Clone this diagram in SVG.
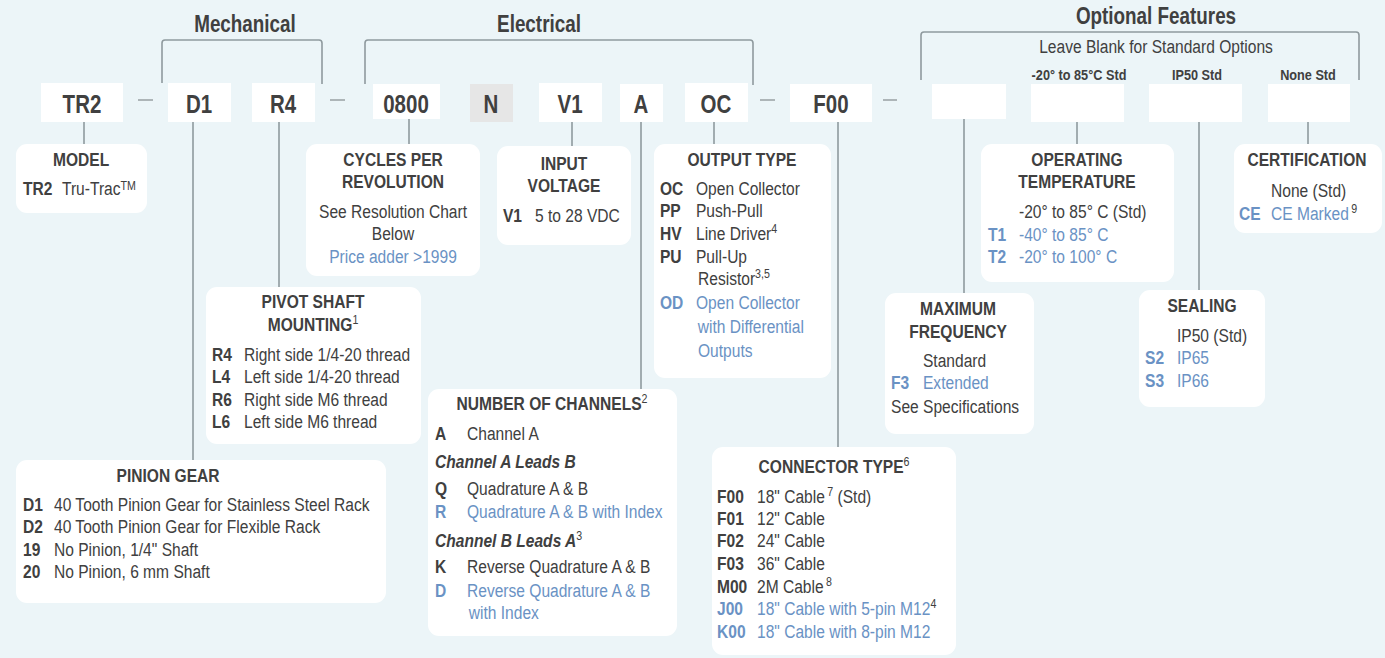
<svg xmlns="http://www.w3.org/2000/svg" width="1385" height="658" viewBox="0 0 1385 658">
<style>
text{font-family:'Liberation Sans Narrow','Arial Narrow','Liberation Sans',Arial,sans-serif;font-size:19px;fill:#404040;transform-box:fill-box;transform-origin:0 0;transform:scaleX(0.82)}
.b{font-weight:bold}
.bl{fill:#6a92c4}
.m{text-anchor:middle;transform-origin:50% 0}
.code{font-size:25px;font-weight:bold;text-anchor:middle;transform-origin:50% 0}
.hd{font-size:23px;font-weight:bold;text-anchor:middle;transform-origin:50% 0}
.sm{font-size:15.5px;font-weight:bold;text-anchor:middle;transform-origin:50% 0}
.card{fill:#ffffff}
.cb{fill:#ffffff}
.ln{fill:none;stroke:#8f9a9e;stroke-width:1.6}
.dash{stroke:#9ea5a8;stroke-width:1.6}
</style>
<rect width="1385" height="658" fill="#ecf5f8"/>

<g id="headings">
<text class="hd" x="245" y="32">Mechanical</text>
<text class="hd" x="539" y="32">Electrical</text>
<text class="hd" x="1156" y="24" font-size="24">Optional Features</text>
<text class="m" x="1156" y="53">Leave Blank for Standard Options</text>
<text class="sm" x="1079" y="80">-20° to 85°C Std</text>
<text class="sm" x="1197" y="80">IP50 Std</text>
<text class="sm" x="1308" y="80">None Std</text>
</g>

<g id="connectors">
<path class="ln" d="M162,83 V43 Q162,40 165,40 H319 Q322,40 322,43 V84"/>
<path class="ln" d="M365,84 V43 Q365,40 368,40 H750 Q753,40 753,43 V85"/>
<path class="ln" d="M921,80 V35 Q921,32 924,32 H1356 Q1359,32 1359,35 V80"/>
<line class="dash" x1="138" y1="100" x2="153" y2="100"/>
<line class="dash" x1="330" y1="100" x2="345" y2="100"/>
<line class="dash" x1="760" y1="100" x2="775" y2="100"/>
<line class="dash" x1="883" y1="100" x2="897" y2="100"/>
<line class="ln" x1="84" y1="121" x2="84" y2="144"/>
<line class="ln" x1="193" y1="121" x2="193" y2="460"/>
<line class="ln" x1="279" y1="121" x2="279" y2="287"/>
<line class="ln" x1="409" y1="119" x2="409" y2="144"/>
<line class="ln" x1="572" y1="121" x2="572" y2="146"/>
<line class="ln" x1="641" y1="121" x2="641" y2="389"/>
<line class="ln" x1="714" y1="121" x2="714" y2="144"/>
<line class="ln" x1="838" y1="121" x2="838" y2="447"/>
<line class="ln" x1="964" y1="119" x2="964" y2="293"/>
<line class="ln" x1="1077" y1="121" x2="1077" y2="144"/>
<line class="ln" x1="1199" y1="121" x2="1199" y2="290"/>
<line class="ln" x1="1308" y1="121" x2="1308" y2="144"/>
</g>

<g id="code-TR2"><rect class="cb" x="41" y="83" width="82" height="39"/><text class="code" x="82" y="113">TR2</text></g>
<g id="code-D1"><rect class="cb" x="168" y="83" width="63" height="39"/><text class="code" x="199" y="113">D1</text></g>
<g id="code-R4"><rect class="cb" x="252" y="83" width="63" height="39"/><text class="code" x="283" y="113">R4</text></g>
<g id="code-0800"><rect class="cb" x="373" y="84" width="67" height="35"/><text class="code" x="406" y="113">0800</text></g>
<g id="code-N"><rect x="470" y="84" width="43" height="38" fill="#e6e6e6"/><text class="code" x="491" y="113">N</text></g>
<g id="code-V1"><rect class="cb" x="539" y="83" width="63" height="39"/><text class="code" x="570" y="113">V1</text></g>
<g id="code-A"><rect class="cb" x="620" y="84" width="43" height="38"/><text class="code" x="641" y="113">A</text></g>
<g id="code-OC"><rect class="cb" x="685" y="83" width="63" height="39"/><text class="code" x="716" y="113">OC</text></g>
<g id="code-F00"><rect class="cb" x="790" y="84" width="82" height="38"/><text class="code" x="831" y="113">F00</text></g>
<g id="code-blank1"><rect class="cb" x="932" y="84" width="74" height="35"/></g>
<g id="code-blank2"><rect class="cb" x="1031" y="84" width="93" height="38"/></g>
<g id="code-blank3"><rect class="cb" x="1149" y="84" width="93" height="38"/></g>
<g id="code-blank4"><rect class="cb" x="1268" y="84" width="82" height="38"/></g>

<g id="model">
<rect class="card" x="16" y="144" width="131" height="69" rx="11"/>
<text class="b m" x="81" y="166">MODEL</text>
<text class="b" x="23" y="195">TR2</text>
<text x="62" y="195">Tru-Trac<tspan dy="-5" font-size="13">TM</tspan></text>
</g>

<g id="cycles">
<rect class="card" x="306" y="144" width="174" height="132" rx="11"/>
<text class="b m" x="393" y="166">CYCLES PER</text>
<text class="b m" x="393" y="188">REVOLUTION</text>
<text class="m" x="393" y="218">See Resolution Chart</text>
<text class="m" x="393" y="240">Below</text>
<text class="m bl" x="393" y="263">Price adder &gt;1999</text>
</g>

<g id="input-voltage">
<rect class="card" x="497" y="146" width="134" height="99" rx="11"/>
<text class="b m" x="564" y="170">INPUT</text>
<text class="b m" x="564" y="192">VOLTAGE</text>
<text class="b" x="503" y="222">V1</text>
<text x="535" y="222">5 to 28 VDC</text>
</g>

<g id="output-type">
<rect class="card" x="654" y="144" width="177" height="234" rx="11"/>
<text class="b m" x="742" y="166">OUTPUT TYPE</text>
<text class="b" x="660" y="195">OC</text><text x="696" y="195">Open Collector</text>
<text class="b" x="660" y="217">PP</text><text x="696" y="217">Push-Pull</text>
<text class="b" x="660" y="240">HV</text><text x="696" y="240">Line Driver<tspan dy="-7" font-size="13">4</tspan></text>
<text class="b" x="660" y="263">PU</text><text x="696" y="263">Pull-Up</text>
<text x="698" y="285">Resistor<tspan dy="-7" font-size="13">3,5</tspan></text>
<text class="b bl" x="660" y="309">OD</text><text class="bl" x="696" y="309">Open Collector</text>
<text class="bl" x="698" y="333">with Differential</text>
<text class="bl" x="698" y="357">Outputs</text>
</g>

<g id="operating-temperature">
<rect class="card" x="981" y="144" width="193" height="138" rx="11"/>
<text class="b m" x="1077" y="166">OPERATING</text>
<text class="b m" x="1077" y="188">TEMPERATURE</text>
<text x="1019" y="218">-20° to 85° C (Std)</text>
<text class="b bl" x="988" y="241">T1</text><text class="bl" x="1019" y="241">-40° to 85° C</text>
<text class="b bl" x="988" y="263">T2</text><text class="bl" x="1019" y="263">-20° to 100° C</text>
</g>

<g id="certification">
<rect class="card" x="1234" y="144" width="148" height="89" rx="11"/>
<text class="b m" x="1307" y="166">CERTIFICATION</text>
<text x="1271" y="197">None (Std)</text>
<text class="b bl" x="1239" y="220">CE</text>
<text class="bl" x="1271" y="220">CE Marked<tspan dx="3" dy="-7" font-size="13" fill="#404040">9</tspan></text>
</g>

<g id="pivot-shaft">
<rect class="card" x="206" y="287" width="215" height="157" rx="11"/>
<text class="b m" x="313" y="308">PIVOT SHAFT</text>
<text class="b m" x="313" y="331">MOUNTING<tspan dy="-7" font-size="13" font-weight="normal">1</tspan></text>
<text class="b" x="212" y="361">R4</text><text x="244" y="361">Right side 1/4-20 thread</text>
<text class="b" x="212" y="383">L4</text><text x="244" y="383">Left side 1/4-20 thread</text>
<text class="b" x="212" y="406">R6</text><text x="244" y="406">Right side M6 thread</text>
<text class="b" x="212" y="428">L6</text><text x="244" y="428">Left side M6 thread</text>
</g>

<g id="max-frequency">
<rect class="card" x="885" y="293" width="149" height="141" rx="11"/>
<text class="b m" x="958" y="315">MAXIMUM</text>
<text class="b m" x="958" y="338">FREQUENCY</text>
<text x="923" y="367">Standard</text>
<text class="b bl" x="891" y="389">F3</text><text class="bl" x="923" y="389">Extended</text>
<text x="891" y="413">See Specifications</text>
</g>

<g id="sealing">
<rect class="card" x="1139" y="290" width="126" height="117" rx="11"/>
<text class="b m" x="1202" y="312">SEALING</text>
<text x="1177" y="342">IP50 (Std)</text>
<text class="b bl" x="1145" y="364">S2</text><text class="bl" x="1177" y="364">IP65</text>
<text class="b bl" x="1145" y="387">S3</text><text class="bl" x="1177" y="387">IP66</text>
</g>

<g id="channels">
<rect class="card" x="428" y="389" width="249" height="247" rx="11"/>
<text class="b m" x="552" y="410">NUMBER OF CHANNELS<tspan dy="-7" font-size="13" font-weight="normal">2</tspan></text>
<text class="b" x="435" y="440">A</text><text x="467" y="440">Channel A</text>
<text class="b" x="435" y="468" font-style="italic">Channel A Leads B</text>
<text class="b" x="435" y="495">Q</text><text x="467" y="495">Quadrature A &amp; B</text>
<text class="b bl" x="435" y="518">R</text><text class="bl" x="467" y="518">Quadrature A &amp; B with Index</text>
<text class="b" x="435" y="547" font-style="italic">Channel B Leads A<tspan dy="-7" font-size="13" font-weight="normal" font-style="normal">3</tspan></text>
<text class="b" x="435" y="573">K</text><text x="467" y="573">Reverse Quadrature A &amp; B</text>
<text class="b bl" x="435" y="597">D</text><text class="bl" x="467" y="597">Reverse Quadrature A &amp; B</text>
<text class="bl" x="469" y="619">with Index</text>
</g>

<g id="pinion-gear">
<rect class="card" x="16" y="460" width="370" height="143" rx="11"/>
<text class="b m" x="168" y="482">PINION GEAR</text>
<text class="b" x="23" y="511">D1</text><text x="54" y="511">40 Tooth Pinion Gear for Stainless Steel Rack</text>
<text class="b" x="23" y="533">D2</text><text x="54" y="533">40 Tooth Pinion Gear for Flexible Rack</text>
<text class="b" x="23" y="556">19</text><text x="54" y="556">No Pinion, 1/4" Shaft</text>
<text class="b" x="23" y="578">20</text><text x="54" y="578">No Pinion, 6 mm Shaft</text>
</g>

<g id="connector-type">
<rect class="card" x="712" y="447" width="244" height="208" rx="11"/>
<text class="b m" x="834" y="473">CONNECTOR TYPE<tspan dy="-7" font-size="13" font-weight="normal">6</tspan></text>
<text class="b" x="717" y="503">F00</text><text x="757" y="503">18" Cable<tspan dx="3" dy="-7" font-size="13">7</tspan><tspan dy="7"> (Std)</tspan></text>
<text class="b" x="717" y="525">F01</text><text x="757" y="525">12" Cable</text>
<text class="b" x="717" y="547">F02</text><text x="757" y="547">24" Cable</text>
<text class="b" x="717" y="570">F03</text><text x="757" y="570">36" Cable</text>
<text class="b" x="717" y="593">M00</text><text x="757" y="593">2M Cable<tspan dx="3" dy="-7" font-size="13">8</tspan></text>
<text class="b bl" x="717" y="615">J00</text><text class="bl" x="757" y="615">18" Cable with 5-pin M12<tspan dy="-7" font-size="13" fill="#404040">4</tspan></text>
<text class="b bl" x="717" y="638">K00</text><text class="bl" x="757" y="638">18" Cable with 8-pin M12</text>
</g>
</svg>
